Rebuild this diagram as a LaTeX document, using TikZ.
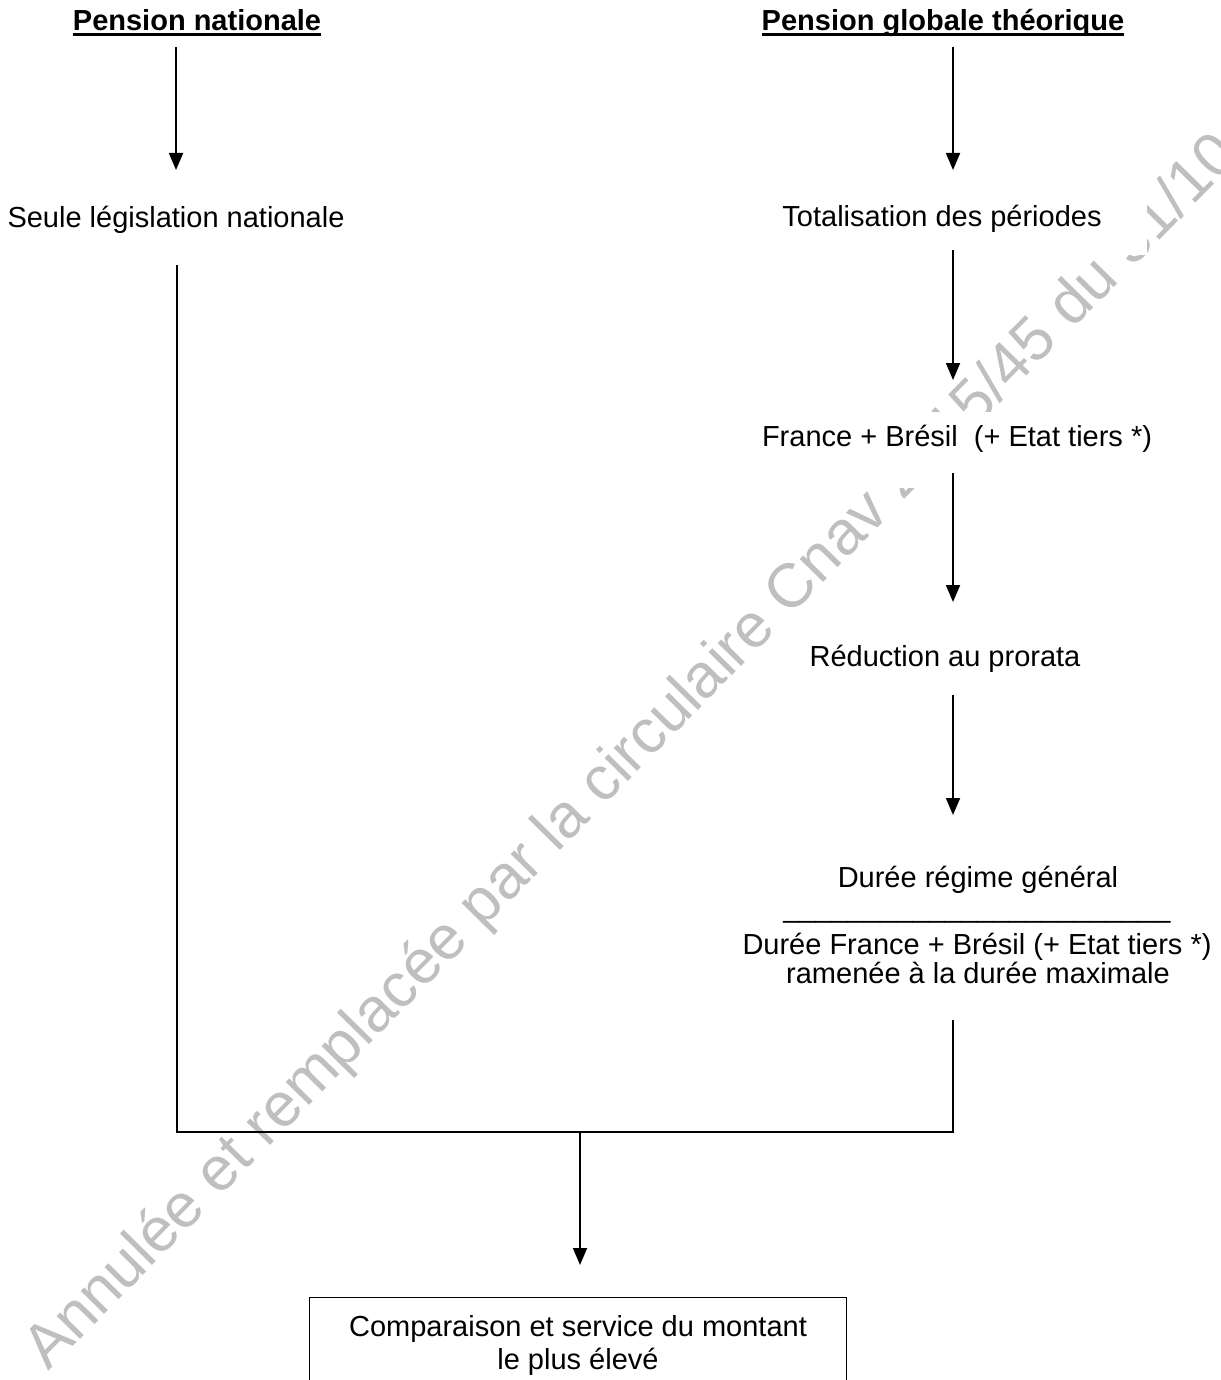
\documentclass[tikz,border=0pt]{standalone}
\usepackage{fontspec}
\setmainfont{Liberation Sans}
\usetikzlibrary{arrows.meta}
\begin{document}
\begin{tikzpicture}[x=1pt,y=-1pt,
  txt/.style={font=\fontsize{29}{34}\selectfont, inner sep=0pt, anchor=base},
  head/.style={font=\bfseries\fontsize{29}{34}\selectfont, inner sep=0pt, anchor=base},
  mask/.style={fill=white},
  conn/.style={line width=1.8pt},
  arr/.style={conn,-{Triangle[length=17pt,width=14pt]}},
  wmark/.style={font=\fontsize{62}{62}\selectfont, text=black!25, rotate=45.5, anchor=base west, inner sep=0pt}]
\useasboundingbox (0,0) rectangle (1220,1380);
\clip (0,0) rectangle (1220,1380);
% watermark
\node[wmark] (wm) at (48,1372) {Annulée et remplacée par la circulaire Cnav 2015/45 du 31/10};
% headings
\node[head] (h1) at (197,31) {Pension nationale};
\node[head] (h2) at (943,31) {Pension globale théorique};
\draw[line width=2.5pt] ([yshift=-3.5pt]h1.base west) -- ([yshift=-3.5pt]h1.base east);
\draw[line width=2.5pt] ([yshift=-3.5pt]h2.base west) -- ([yshift=-3.5pt]h2.base east);
% texts
\node[txt] (seule) at (176,228) {Seule législation nationale};
\node[txt, mask, inner xsep=45pt, inner ysep=8pt, text depth=21pt] (tot) at (942,226) {Totalisation des périodes};
\node[txt, mask, inner xsep=6pt, inner ysep=13pt, text depth=29pt] (fb) at (957,446) {France + Brésil\ \ (+ Etat tiers *)};
\node[txt] (red) at (945,666) {Réduction au prorata};
\node[txt] (dr) at (978,887) {Durée régime général};
\node[txt] (bar) at (977,917) {\_\_\_\_\_\_\_\_\_\_\_\_\_\_\_\_\_\_\_\_\_\_\_\_};
\node[txt] (df) at (977,954) {Durée France + Brésil (+ Etat tiers *)};
\node[txt] (ram) at (978,983) {ramenée à la durée maximale};
% arrows
\coordinate (a1s) at (176,47);  \coordinate (a1e) at (176,170);
\coordinate (a2s) at (953,47);  \coordinate (a2e) at (953,170);
\coordinate (a3s) at (953,250); \coordinate (a3e) at (953,380);
\coordinate (a4s) at (953,473); \coordinate (a4e) at (953,602);
\coordinate (a5s) at (953,695); \coordinate (a5e) at (953,815);
\draw[arr] (a1s) -- (a1e);
\draw[arr] (a2s) -- (a2e);
\draw[arr] (a3s) -- (a3e);
\draw[arr] (a4s) -- (a4e);
\draw[arr] (a5s) -- (a5e);
% joining lines
\coordinate (ls) at (177,265);
\coordinate (lj) at (177,1132);
\coordinate (rj) at (953,1132);
\coordinate (rs) at (953,1020);
\coordinate (ms) at (580,1132);
\coordinate (me) at (580,1265);
\draw[conn] (ls) -- (lj) -- (rj) -- (rs);
\draw[arr] (ms) -- (me);
% final box
\node[draw, line width=1.4pt, anchor=north west, minimum width=537pt, minimum height=120pt, inner sep=0pt] (box) at (309,1297) {};
\node[txt] (c1) at (578,1336) {Comparaison et service du montant};
\node[txt] (c2) at (578,1369) {le plus élevé};
\end{tikzpicture}
\end{document}
